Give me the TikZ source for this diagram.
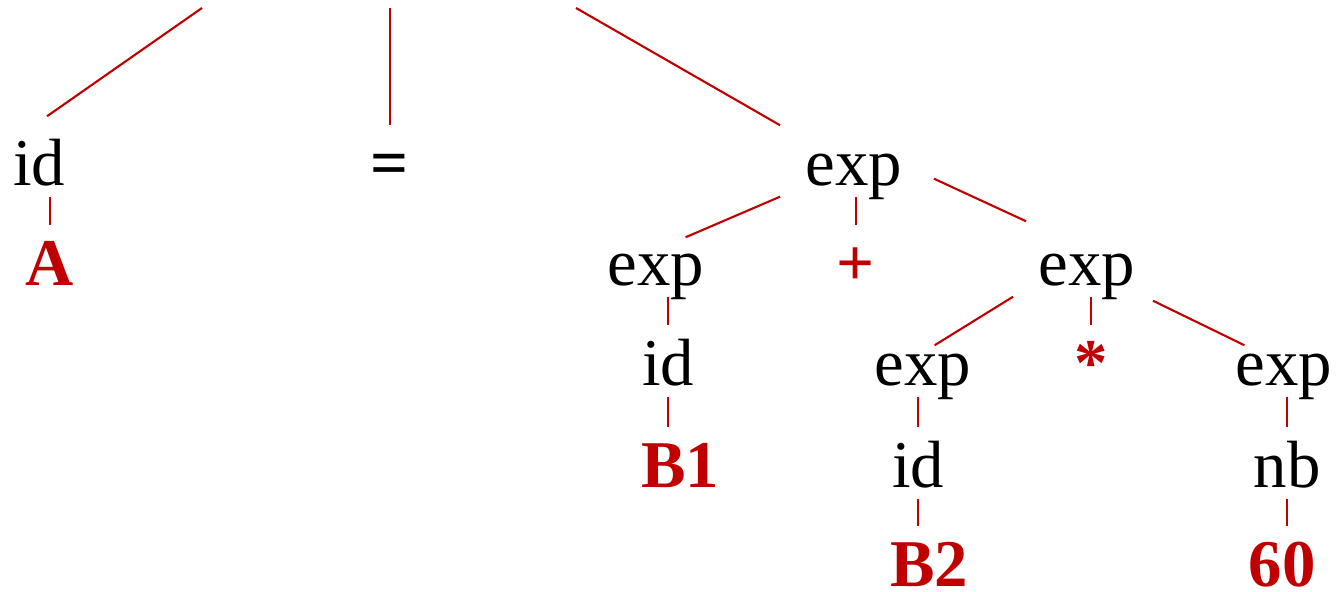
\documentclass[tikz,border=0pt]{standalone}
\usepackage{fontspec}
\setmainfont{Liberation Serif}
\usepackage{tikz}
\usetikzlibrary{positioning,calc}
\definecolor{ptred}{RGB}{192,0,0}
\definecolor{ptink}{RGB}{0,0,0}
\tikzset{
  pt/.style={font=\fontsize{19}{23}\selectfont, x=0.01cm, y=-0.01cm},
  ptnode/.style={
    text=ptink, anchor=base, text height=0.6cm, text depth=0.1cm,
    inner xsep=0.25cm, inner ysep=0pt
  },
  ptleaf/.style={ptnode, text=ptred, text depth=0pt,
    font=\fontsize{19}{23}\selectfont\bfseries},
  ptedge/.style={draw=ptred, line width=0.6pt},
}

\begin{document}
\begin{tikzpicture}[pt]
  \useasboundingbox (0,0) rectangle (1340,592);
  % branches cut off by the top edge
  \coordinate (t1) at (202,8);
  \coordinate (t2) at (390,8);
  \coordinate (t3) at (576,8);

  \node[ptnode] (idA) at (39,186) {id};
  \node[ptleaf] (A) at (50,286) {A};
  \node[ptnode, font=\fontsize{19}{23}\selectfont\bfseries] (eq) at (390,186) {=};

  \node[ptnode] (e0) at (854,186) {exp};
  \node[ptnode] (e1) at (656,286) {exp};
  \node[ptleaf] (plus) at (856,286) {+};
  \node[ptnode] (e2) at (1087,286) {exp};

  \node[ptnode] (id1) at (668,386) {id};
  \node[ptnode] (e3) at (923,386) {exp};
  \node[ptleaf] (star) at (1091,386) {*};
  \node[ptnode] (e4) at (1284,386) {exp};

  \node[ptleaf] (B1) at (680,488) {B1};
  \node[ptnode] (id3) at (918,488) {id};
  \node[ptnode] (nb) at (1287,488) {nb};

  \node[ptleaf] (B2) at (929,587) {B2};
  \node[ptleaf] (n60) at (1282,587) {60};

  \draw[ptedge] (t1) -- ([shift={(8,-9)}]idA.north);
  \draw[ptedge] (t2) -- (eq.north);
  \draw[ptedge] (t3) -- (e0.north west);
  \draw[ptedge] (A.north |- idA.south) -- (A.north);

  \draw[ptedge] (e0.south west) -- ([shift={(9,12)}]e1.60);
  \draw[ptedge] (e0.south -| plus) -- (plus.north);
  \draw[ptedge] ([shift={(6,-18)}]e0.south east) -- ([shift={(13,-4)}]e2.north west);

  \draw[ptedge] (id1.north |- e1.south) -- (id1.north);
  \draw[ptedge] (id1.south) -- (id1.south |- B1.north);

  \draw[ptedge] (e2.south west) -- ([shift={(-9,20)}]e3.60);
  \draw[ptedge] (e2.south -| star) -- (star.north);
  \draw[ptedge] ([shift={(-8,4)}]e2.south east) -- ([shift={(-19,20)}]e4.120);

  \draw[ptedge] (id3.north |- e3.south) -- (id3.north);
  \draw[ptedge] (id3.south) -- (id3.south |- B2.north);
  \draw[ptedge] (nb.north |- e4.south) -- (nb.north);
  \draw[ptedge] (nb.south) -- (nb.south |- n60.north);
\end{tikzpicture}
\end{document}
